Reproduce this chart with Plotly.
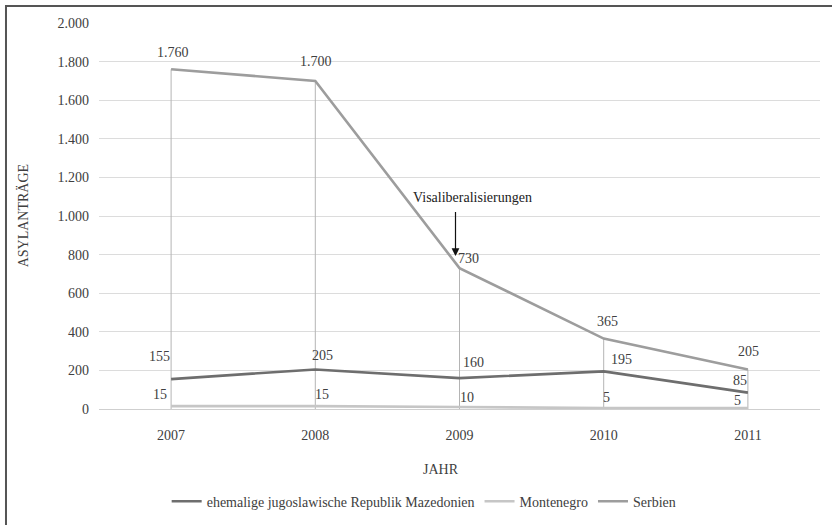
import plotly.graph_objects as go

# Asylanträge nach Herkunftsland
years = ["2007", "2008", "2009", "2010", "2011"]
mazedonien = [155, 205, 160, 195, 85]
montenegro = [15, 15, 10, 5, 5]
serbien = [1760, 1700, 730, 365, 205]

series_names = ["ehemalige jugoslawische Republik Mazedonien", "Montenegro", "Serbien"]
y_ticks = [0, 200, 400, 600, 800, 1000, 1200, 1400, 1600, 1800, 2000]

FONT = "Liberation Serif"
TXT = "#404040"


def fmt(v):
    return f"{v:,}".replace(",", ".")


fig = go.Figure()

# Drop lines from the highest series down to the axis
drop_x, drop_y = [], []
for yr, v in zip(years, serbien):
    drop_x += [yr, yr, None]
    drop_y += [0, v, None]
fig.add_trace(go.Scatter(x=drop_x, y=drop_y, mode="lines",
                         line=dict(color="#b4b4b4", width=1),
                         showlegend=False, hoverinfo="skip"))

colors = ["#6e6e6e", "#c6c6c6", "#9d9d9d"]
for name, vals, col in zip(series_names, [mazedonien, montenegro, serbien], colors):
    fig.add_trace(go.Scatter(x=years, y=vals, mode="lines", name=name,
                             line=dict(color=col, width=2.6)))

# Label offsets (pixels) per series and year
offsets = {
    0: [(-12, 23), (7, 14), (14, 16), (18, 12), (-8, 12)],
    1: [(-11, 12), (7, 12), (7, 10), (3, 11), (-10, 8)],
    2: [(2, 17), (1, 19), (9, 10), (4, 17), (1, 18)],
}
annotations = []
for si, vals in enumerate([mazedonien, montenegro, serbien]):
    for i, (v, (dx, dy)) in enumerate(zip(vals, offsets[si])):
        annotations.append(dict(x=i, y=v, xref="x", yref="y", text=fmt(v),
                                showarrow=False, xanchor="center", yanchor="middle",
                                xshift=dx, yshift=dy,
                                font=dict(family=FONT, size=14, color=TXT)))

# Visa liberalisation marker
i09 = years.index("2009")
annotations.append(dict(x=i09, y=serbien[i09], xref="x", yref="y", text=" ",
                        showarrow=True, xshift=-4, yshift=12, ax=0, ay=-53,
                        arrowhead=2, arrowsize=1.3, arrowwidth=1.2,
                        arrowcolor="#111111", standoff=0))
annotations.append(dict(x=i09, y=serbien[i09], xref="x", yref="y",
                        text="Visaliberalisierungen", showarrow=False,
                        xanchor="center", yanchor="middle",
                        xshift=13, yshift=71,
                        font=dict(family=FONT, size=14, color="#222222")))

# Axis titles
annotations.append(dict(xref="paper", yref="paper", x=0.474, y=-0.158,
                        xanchor="center", yanchor="middle",
                        text="JAHR", showarrow=False,
                        font=dict(family=FONT, size=14, color=TXT)))
annotations.append(dict(xref="paper", yref="paper", x=-0.105, y=0.5,
                        xanchor="center", yanchor="middle",
                        text="ASYLANTRÄGE", showarrow=False, textangle=-90,
                        font=dict(family=FONT, size=14, color=TXT)))

fig.update_layout(
    width=832, height=525,
    margin=dict(l=99, r=12, t=23, b=116, autoexpand=False),
    paper_bgcolor="white", plot_bgcolor="white",
    separators=",.",
    font=dict(family=FONT, size=14, color=TXT),
    annotations=annotations,
    legend=dict(orientation="h", xanchor="center", yanchor="middle",
                x=0.451, y=-0.240, font=dict(family=FONT, size=14, color=TXT),
                itemwidth=30, bgcolor="rgba(0,0,0,0)"),
    shapes=[dict(type="rect", xref="paper", yref="paper",
                 x0=-0.129, x1=1.3, y0=-0.6, y1=1.044,
                 line=dict(color="#555555", width=2), layer="above")],
)

fig.update_xaxes(type="category", range=[-0.5, 4.5], showgrid=False,
                 showline=False, zeroline=False, ticks="",
                 ticklabelstandoff=16,
                 tickfont=dict(family=FONT, size=14, color=TXT))
fig.update_yaxes(range=[0, 2000], tickvals=y_ticks,
                 ticktext=[fmt(v) for v in y_ticks],
                 showgrid=True, gridcolor="#dcdcdc", gridwidth=1,
                 zeroline=True, zerolinecolor="#cfcfcf", zerolinewidth=1,
                 showline=False, ticks="", ticklabelstandoff=9,
                 tickfont=dict(family=FONT, size=14, color=TXT))

fig.write_html("out.html")
